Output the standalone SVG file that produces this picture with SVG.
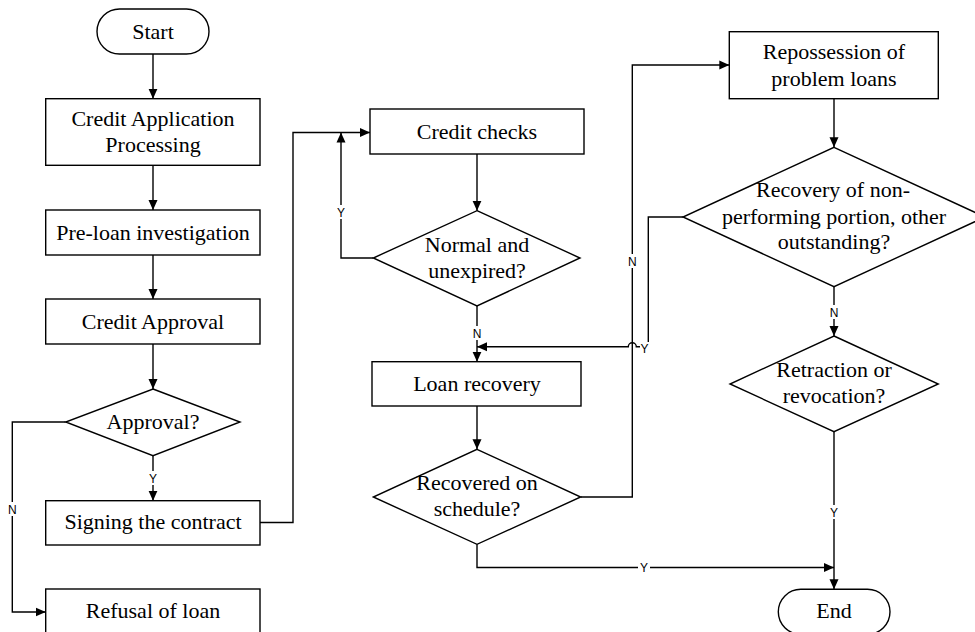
<svg xmlns="http://www.w3.org/2000/svg" width="975" height="632" viewBox="0 0 975 632">
<style>
.box{fill:#fff;stroke:#000;stroke-width:1.4}
.t{font-family:"Liberation Serif","Times New Roman",serif;font-size:22px;fill:#000;text-anchor:middle}
.ln{fill:none;stroke:#000;stroke-width:1.4}
.lb{font-family:"Liberation Sans",Arial,sans-serif;font-size:12px;fill:#000;text-anchor:middle}
.bg{fill:#fff}
</style>
<defs>
<marker id="ah" markerUnits="userSpaceOnUse" markerWidth="11" markerHeight="10" refX="10" refY="5" orient="auto">
<path d="M0,0.5 L10,5 L0,9.5 z" fill="#000"/>
</marker>
</defs>
<g id="connectors">
<path class="ln" d="M153,54 V98.7" marker-end="url(#ah)"/>
<path class="ln" d="M153,165.3 V210" marker-end="url(#ah)"/>
<path class="ln" d="M153,255 V299" marker-end="url(#ah)"/>
<path class="ln" d="M153,344 V389" marker-end="url(#ah)"/>
<path class="ln" d="M153,455.7 V500.7" marker-end="url(#ah)"/>
<path class="ln" d="M65.7,422 H12.3 V612 H45.7" marker-end="url(#ah)"/>
<path class="ln" d="M260,522.5 H293 V132.5 H370" marker-end="url(#ah)"/>
<path class="ln" d="M477,154 V210.7" marker-end="url(#ah)"/>
<path class="ln" d="M373.3,258 H341 V132.5" marker-end="url(#ah)"/>
<path class="ln" d="M477,306 V361.7" marker-end="url(#ah)"/>
<path class="ln" d="M683,217 H648.3 V346.7 H636.3 A4,4 0 0 0 628.3,346.7 H477" marker-end="url(#ah)"/>
<path class="ln" d="M477,406 V449.3" marker-end="url(#ah)"/>
<path class="ln" d="M580.7,497 H632.3 V65 H729.3" marker-end="url(#ah)"/>
<path class="ln" d="M834,98.7 V147.3" marker-end="url(#ah)"/>
<path class="ln" d="M834,286.7 V336" marker-end="url(#ah)"/>
<path class="ln" d="M834,431.7 V589.3" marker-end="url(#ah)"/>
<path class="ln" d="M477,544.3 V567.5 H834" marker-end="url(#ah)"/>
<g id="labels">
<rect class="bg" x="147" y="471" width="12" height="14"/><text class="lb" x="153" y="482.5">Y</text>
<rect class="bg" x="6.3" y="502" width="12" height="14"/><text class="lb" x="12.3" y="513.5">N</text>
<rect class="bg" x="335" y="205" width="12" height="14"/><text class="lb" x="341" y="216.5">Y</text>
<rect class="bg" x="471" y="326" width="12" height="14"/><text class="lb" x="477" y="337.5">N</text>
<rect class="bg" x="640" y="342" width="9" height="13"/><text class="lb" x="644.5" y="353">Y</text>
<rect class="bg" x="626.3" y="254" width="12" height="14"/><text class="lb" x="632.3" y="265.5">N</text>
<rect class="bg" x="828" y="305" width="12" height="14"/><text class="lb" x="834" y="316.5">N</text>
<rect class="bg" x="828" y="505" width="12" height="14"/><text class="lb" x="834" y="516.5">Y</text>
<rect class="bg" x="638" y="560.5" width="12" height="14"/><text class="lb" x="644" y="572">Y</text>
</g>
</g>
<g id="start"><rect class="box" x="97" y="9" width="112" height="45" rx="22.5"/><text class="t" x="153" y="39">Start</text></g>
<g id="credit-application"><rect class="box" x="45.7" y="98.7" width="214.3" height="66.6"/><text class="t" x="153" y="126">Credit Application</text><text class="t" x="153" y="152">Processing</text></g>
<g id="pre-loan"><rect class="box" x="45.7" y="210" width="214.3" height="45"/><text class="t" x="153" y="240">Pre-loan investigation</text></g>
<g id="credit-approval"><rect class="box" x="45.7" y="299" width="214.3" height="45"/><text class="t" x="153" y="329">Credit Approval</text></g>
<g id="approval-q"><polygon class="box" points="153,389 240,422 153,455.7 65.7,422"/><text class="t" x="153" y="429">Approval?</text></g>
<g id="signing"><rect class="box" x="45.7" y="500.7" width="214.3" height="44.3"/><text class="t" x="153" y="529">Signing the contract</text></g>
<g id="refusal"><rect class="box" x="45.7" y="589" width="214.3" height="45"/><text class="t" x="153" y="618">Refusal of loan</text></g>
<g id="credit-checks"><rect class="box" x="370" y="109" width="214" height="45"/><text class="t" x="477" y="138.5">Credit checks</text></g>
<g id="normal-q"><polygon class="box" points="477,210.7 580,258 477,306 373.3,258"/><text class="t" x="477" y="251.7">Normal and</text><text class="t" x="477" y="278">unexpired?</text></g>
<g id="loan-recovery"><rect class="box" x="372" y="361.7" width="209" height="44.3"/><text class="t" x="477" y="391">Loan recovery</text></g>
<g id="recovered-q"><polygon class="box" points="477,449.3 580.7,497 477,544.3 373.3,497"/><text class="t" x="477" y="490">Recovered on</text><text class="t" x="477" y="516">schedule?</text></g>
<g id="repossession"><rect class="box" x="729.3" y="31.7" width="209" height="67"/><text class="t" x="834" y="59.3">Repossession of</text><text class="t" x="834" y="86">problem loans</text></g>
<g id="recovery-q"><polygon class="box" points="834,147.3 985,217 834,286.7 683,217"/><text class="t" x="833" y="197">Recovery of non-</text><text class="t" x="834" y="223.5">performing portion, other</text><text class="t" x="834" y="249">outstanding?</text></g>
<g id="retraction-q"><polygon class="box" points="834,336 938.3,384 834,431.7 730,384"/><text class="t" x="834" y="377">Retraction or</text><text class="t" x="834" y="403">revocation?</text></g>
<g id="end"><rect class="box" x="778.3" y="589.3" width="111.7" height="45" rx="22.5"/><text class="t" x="834" y="618">End</text></g>
</svg>
